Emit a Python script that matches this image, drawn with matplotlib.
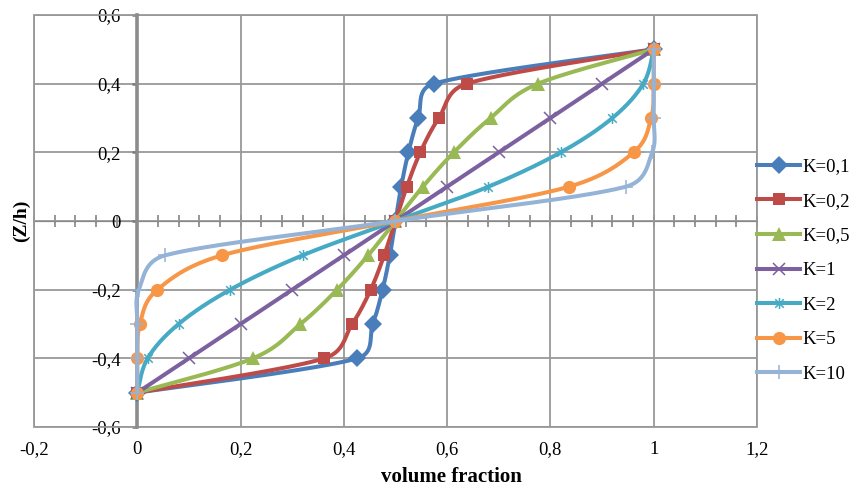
import numpy as np
import matplotlib
matplotlib.use("Agg")
import matplotlib.pyplot as plt
from matplotlib.lines import Line2D
from matplotlib.patches import Rectangle
from matplotlib.path import Path
from matplotlib.ticker import MultipleLocator, NullFormatter

plt.rcParams['font.family'] = ['Liberation Serif', 'DejaVu Serif']

# Position through the thickness (z/h)
z = [-0.5, -0.4, -0.3, -0.2, -0.1, 0.0, 0.1, 0.2, 0.3, 0.4, 0.5]

# Volume fraction for each power-law index K
k_labels = ['K=0,1', 'K=0,2', 'K=0,5', 'K=1', 'K=2', 'K=5', 'K=10']
v_k01 = [0.0, 0.426, 0.456, 0.475, 0.489, 0.5, 0.511, 0.525, 0.544, 0.574, 1.0]
v_k02 = [0.0, 0.362, 0.416, 0.452, 0.478, 0.5, 0.522, 0.548, 0.584, 0.638, 1.0]
v_k05 = [0.0, 0.224, 0.316, 0.387, 0.447, 0.5, 0.553, 0.613, 0.684, 0.776, 1.0]
v_k1 = [0.0, 0.1, 0.2, 0.3, 0.4, 0.5, 0.6, 0.7, 0.8, 0.9, 1.0]
v_k2 = [0.0, 0.02, 0.08, 0.18, 0.32, 0.5, 0.68, 0.82, 0.92, 0.98, 1.0]
v_k5 = [0.0, 0.0002, 0.005, 0.039, 0.164, 0.5, 0.836, 0.961, 0.995, 0.9998, 1.0]
v_k10 = [0.0, 0.0, 0.0001, 0.003, 0.054, 0.5, 0.946, 0.997, 0.9999, 1.0, 1.0]
series = [v_k01, v_k02, v_k05, v_k1, v_k2, v_k5, v_k10]

x_ticks = [-0.2, 0.0, 0.2, 0.4, 0.6, 0.8, 1.0, 1.2]
x_tick_labels = ['-0,2', '0', '0,2', '0,4', '0,6', '0,8', '1', '1,2']
y_ticks = [-0.6, -0.4, -0.2, 0.0, 0.2, 0.4, 0.6]
y_tick_labels = ['-0,6', '-0,4', '-0,2', '0', '0,2', '0,4', '0,6']

colors = ['#4A7EBB', '#BE4B48', '#98B954', '#7D60A0', '#46AAC5', '#F79646', '#95B3D7']

# asterisk marker: an "x" crossed by a vertical bar
star_path = Path(
    [(-1, -1), (1, 1), (-1, 1), (1, -1), (0, -1.3), (0, 1.3)],
    [Path.MOVETO, Path.LINETO, Path.MOVETO, Path.LINETO, Path.MOVETO, Path.LINETO])

marker_styles = [
    dict(marker='D', ms=9.0, mfc=None, mew=0),
    dict(marker='s', ms=9.0, mfc=None, mew=0),
    dict(marker='^', ms=10.0, mfc=None, mew=0),
    dict(marker='x', ms=8.5, mfc='none', mew=1.1),
    dict(marker=star_path, ms=8.0, mfc='none', mew=1.1),
    dict(marker='o', ms=9.5, mfc=None, mew=0),
    dict(marker='+', ms=10.0, mfc='none', mew=1.1),
]

W, H = 853, 486
fig = plt.figure(figsize=(W / 100, H / 100), dpi=100)
left, right, top, bottom = 34, 757, 15, 427
ax = fig.add_axes([left / W, 1 - bottom / H, (right - left) / W, (bottom - top) / H])
ax.set_xlim(-0.2, 1.2)
ax.set_ylim(-0.6, 0.6)

grid_col = '#989898'
axis_col = '#8C8C8C'

# gridlines
ax.set_xticks(x_ticks, x_tick_labels)
ax.set_yticks(y_ticks, y_tick_labels)
ax.set_axisbelow(True)
ax.grid(True, color=grid_col, lw=1.3)

for s in ['top', 'right', 'bottom']:
    ax.spines[s].set_visible(False)
ax.add_patch(Rectangle((0, 0), 1, 1, transform=ax.transAxes, fill=False,
                       ec=grid_col, lw=1.3, clip_on=False, zorder=1))

# vertical axis crossing at x = 0
ax.spines['left'].set_position(('data', 0))
ax.spines['left'].set_color(axis_col)
ax.spines['left'].set_linewidth(2.6)
ax.tick_params(axis='y', direction='out', length=3.5, width=1.8, color='#7A7A7A',
               labelsize=13.5, pad=8.5)
ax.tick_params(axis='x', length=0, labelsize=13.5, pad=9.8)

# horizontal axis crossing at y = 0 with minor cross ticks
secax = ax.secondary_xaxis(0.5)
secax.spines['bottom'].set_color(axis_col)
secax.spines['bottom'].set_linewidth(1.6)
secax.xaxis.set_major_locator(MultipleLocator(0.04))
secax.xaxis.set_major_formatter(NullFormatter())
secax.tick_params(axis='x', which='both', direction='inout', length=8, width=1.1,
                  color='#7A7A7A', labelbottom=False, labeltop=False)

ax.set_xlabel('volume fraction', fontsize=15, fontweight='bold')
ax.xaxis.set_label_coords(0.578, -0.097)
ax.set_ylabel('(Z/h)', fontsize=14, fontweight='bold')
ax.yaxis.set_label_coords(-0.005, 0.5)


def smooth(xs, ys, sx, sy, n=40):
    """Bezier curve through the points, with control arms limited to half a segment."""
    P = np.column_stack([np.asarray(xs) * sx, np.asarray(ys) * sy])
    m = len(P)
    fwd = np.zeros_like(P)
    back = np.zeros_like(P)
    for i in range(m):
        p0 = P[max(i - 1, 0)]
        p2 = P[min(i + 1, m - 1)]
        p1 = P[i]
        d02 = np.hypot(*(p2 - p0))
        if d02 == 0:
            continue
        u = (p2 - p0) / d02
        d01 = np.hypot(*(p1 - p0))
        d12 = np.hypot(*(p2 - p1))
        back[i] = p1 - u * min(d02 / 6.0, d01 / 2.0)
        fwd[i] = p1 + u * min(d02 / 6.0, d12 / 2.0)
    t = np.linspace(0, 1, n)[:, None]
    pieces = []
    for i in range(m - 1):
        p1, p2 = P[i], P[i + 1]
        c1, c2 = fwd[i], back[i + 1]
        seg = ((1 - t) ** 3) * p1 + 3 * ((1 - t) ** 2) * t * c1 + 3 * (1 - t) * t ** 2 * c2 + t ** 3 * p2
        pieces.append(seg if i == 0 else seg[1:])
    C = np.vstack(pieces)
    return C[:, 0] / sx, C[:, 1] / sy


sx = (right - left) / 1.4
sy = (bottom - top) / 1.2

handles = []
for vals, col, lab, ms in zip(series, colors, k_labels, marker_styles):
    cx, cy = smooth(vals, z, sx, sy)
    ax.plot(cx, cy, color=col, lw=2.9, zorder=3, solid_capstyle='round',
            solid_joinstyle='round')
    mfc = col if ms['mfc'] is None else ms['mfc']
    ax.plot(vals, z, ls='none', marker=ms['marker'], ms=ms['ms'], mfc=mfc,
            mec=col, mew=ms['mew'], zorder=3)
    handles.append(Line2D([], [], color=col, lw=2.9, marker=ms['marker'], ms=ms['ms'],
                          mfc=mfc, mec=col, mew=ms['mew'], label=lab))

fig.legend(handles=handles, loc='upper left', bbox_to_anchor=(757 / W, 1 - 158 / H),
           frameon=False, fontsize=13.5, handlelength=2.3, handletextpad=0.12,
           labelspacing=0.935, borderpad=0, borderaxespad=0)

fig.savefig('out.png', dpi=100)
